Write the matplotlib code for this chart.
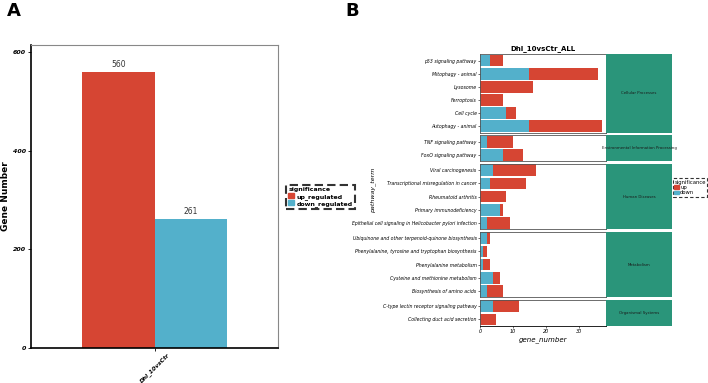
import matplotlib
matplotlib.use("Agg")
import matplotlib.pyplot as plt
from matplotlib.patches import Patch

# panel A data
groups = ["Dhl_10vsCtr"]
sig_levels = ["up_regulated", "down_regulated"]
up_count = [560]
down_count = [261]

# panel B data (top to bottom inside each facet)
categories = ["Cellular Processes", "Environmental Information Processing",
              "Human Diseases", "Metabolism", "Organismal Systems"]
terms = [
    ["p53 signaling pathway", "Mitophagy - animal", "Lysosome", "Ferroptosis",
     "Cell cycle", "Autophagy - animal"],
    ["TNF signaling pathway", "FoxO signaling pathway"],
    ["Viral carcinogenesis", "Transcriptional misregulation in cancer",
     "Rheumatoid arthritis", "Primary immunodeficiency",
     "Epithelial cell signaling in Helicobacter pylori infection"],
    ["Ubiquinone and other terpenoid-quinone biosynthesis",
     "Phenylalanine, tyrosine and tryptophan biosynthesis",
     "Phenylalanine metabolism", "Cysteine and methionine metabolism",
     "Biosynthesis of amino acids"],
    ["C-type lectin receptor signaling pathway", "Collecting duct acid secretion"],
]
down_genes = [
    [3, 15, 0, 0, 8, 15],
    [2, 7],
    [4, 3, 0, 6, 2],
    [2, 1, 1, 4, 2],
    [4, 0],
]
up_genes = [
    [4, 21, 16, 7, 3, 22],
    [8, 6],
    [13, 11, 8, 1, 7],
    [1, 1, 2, 2, 5],
    [8, 5],
]

RED = "#D64533"
BLUE = "#53B0CB"
GREEN = "#2A957A"

W, H = 708, 383
fig = plt.figure(figsize=(W / 100, H / 100), dpi=100)


def px_axes(x0, y0, x1, y1):
    return fig.add_axes([x0 / W, 1 - y1 / H, (x1 - x0) / W, (y1 - y0) / H])


fig.text(7 / W, 1 - 11 / H, "A", fontsize=13, fontweight="bold", va="center")
fig.text(345 / W, 1 - 11 / H, "B", fontsize=13, fontweight="bold", va="center")

# ---------- panel A ----------
ax = px_axes(31, 45, 278, 348)
bw = 0.45
ax.bar([-bw / 2], up_count, width=bw, color=RED)
ax.bar([bw / 2], down_count, width=bw, color=BLUE)
for xpos, v in zip([-bw / 2, bw / 2], [up_count[0], down_count[0]]):
    ax.text(xpos, v + 6, str(v), ha="center", va="bottom", fontsize=5.5, color="#333333")
ax.set_xlim(-0.77, 0.77)
ax.set_ylim(0, 614)
ax.set_yticks([0, 200, 400, 600])
ax.set_yticklabels(["0", "200", "400", "600"], fontsize=4.5, fontstyle="italic", fontweight="bold")
ax.set_xticks([0])
ax.set_xticklabels(groups, rotation=45, ha="center", va="top",
                   fontsize=4.2, fontstyle="italic", fontweight="bold")
ax.set_ylabel("Gene Number", fontsize=6.5, fontweight="bold")
ax.yaxis.set_label_coords(-0.085, 0.5)
ax.tick_params(axis="y", length=2, width=0.6, pad=1.5)
ax.tick_params(axis="x", length=2, width=0.6, pad=0.5)
for s in ["top", "right"]:
    ax.spines[s].set_color("#888888")
    ax.spines[s].set_linewidth(0.8)
for s in ["left", "bottom"]:
    ax.spines[s].set_color("black")
    ax.spines[s].set_linewidth(1.2)

handles_a = [Patch(color=RED, label=sig_levels[0]), Patch(color=BLUE, label=sig_levels[1])]
leg = fig.legend(handles=handles_a, title="significance", loc="center",
                 bbox_to_anchor=(320.5 / W, 1 - 197 / H),
                 title_fontsize=4.5, handlelength=0.9, handleheight=0.8,
                 handletextpad=0.4, labelspacing=0.1, borderpad=0.4,
                 fancybox=False, edgecolor="black", prop={"weight": "bold", "size": 4.5})
leg.get_title().set_fontweight("bold")
leg._legend_box.align = "left"
leg.get_frame().set_linestyle((0, (4, 2)))
leg.get_frame().set_linewidth(1.5)

# ---------- panel B ----------
top, bottom = 54, 326
gap = 2.5
n_rows = sum(len(t) for t in terms)
row_px = (bottom - top - gap * (len(terms) - 1)) / n_rows
xmax = 38.3
y = top
for i, cat in enumerate(categories):
    n = len(terms[i])
    h = n * row_px
    axb = px_axes(480, y, 606, y + h)
    pos = list(range(n))
    axb.barh(pos, down_genes[i], height=0.9, color=BLUE)
    axb.barh(pos, up_genes[i], left=down_genes[i], height=0.9, color=RED)
    axb.set_ylim(n - 0.5, -0.5)
    axb.set_xlim(0, xmax)
    axb.set_yticks(pos)
    axb.set_yticklabels(terms[i], fontsize=3.3, fontstyle="italic")
    axb.tick_params(axis="y", length=1.5, width=0.4, pad=1)
    for s in axb.spines.values():
        s.set_color("#555555")
        s.set_linewidth(0.6)
    if i == len(categories) - 1:
        axb.set_xticks([0, 10, 20, 30])
        axb.set_xticklabels(["0", "10", "20", "30"], fontsize=3.5, fontstyle="italic")
        axb.tick_params(axis="x", length=1.5, width=0.4, pad=1)
        axb.set_xlabel("gene_number", fontsize=5, fontstyle="italic", labelpad=1)
        axb.spines["bottom"].set_color("black")
    else:
        axb.set_xticks([])
    if i == 0:
        axb.set_title("Dhl_10vsCtr_ALL", fontsize=5, fontweight="bold", pad=3)
    # facet strip
    st = px_axes(606, y, 672, y + h)
    st.set_facecolor(GREEN)
    st.set_xticks([])
    st.set_yticks([])
    for s in st.spines.values():
        s.set_visible(False)
    st.text(0.5, 0.5, cat, ha="center", va="center", fontsize=2.8, color="#1a1a1a",
            transform=st.transAxes)
    y += h + gap

fig.text(373 / W, 1 - 190 / H, "pathway_term", rotation=90, ha="center", va="center",
         fontsize=4.5, fontstyle="italic")

handles_b = [Patch(color=RED, label="up"), Patch(color=BLUE, label="down")]
leg2 = fig.legend(handles=handles_b, title="significance", loc="center left",
                  bbox_to_anchor=(673 / W, 1 - 187.5 / H), fontsize=3.8,
                  title_fontsize=3.8, handlelength=0.8, handleheight=0.7,
                  handletextpad=0.3, labelspacing=0.05, borderpad=0.25,
                  borderaxespad=0, fancybox=False, edgecolor="black")
leg2._legend_box.align = "left"
leg2.get_frame().set_linestyle((0, (3, 2)))
leg2.get_frame().set_linewidth(0.8)

fig.savefig("out.png", dpi=100)
